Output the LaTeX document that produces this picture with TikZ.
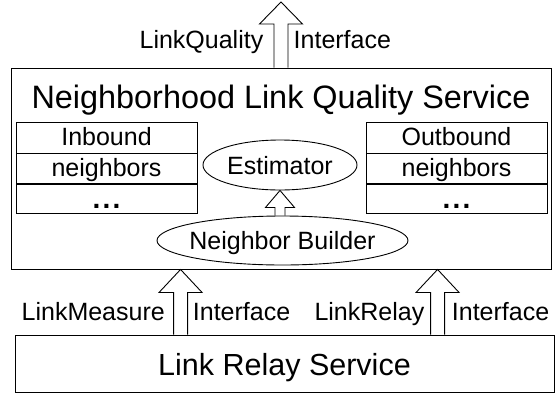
\documentclass[tikz,border=0pt]{standalone}
\usepackage{fontspec}
\setmainfont{Liberation Sans}
\usetikzlibrary{shapes.geometric,calc}

\tikzset{
  line/.style={draw=black, line width=0.9pt},
  frame/.style={line, rectangle, inner sep=0pt},
  cell/.style={frame, minimum width=181pt, font=\fontsize{25}{30}\selectfont,
               text height=15pt, text depth=0pt},
  oval/.style={line, ellipse, inner sep=0pt},
  ovaltext/.style={font=\fontsize{25}{30}\selectfont, text height=18pt,
                   text depth=0pt, inner sep=0pt},
  lbl/.style={font=\fontsize{25}{30}\selectfont, inner sep=0pt},
  hollow/.style={line, line join=miter},
}

% open block arrow pointing up: base point, tip point,
% shaft half width, head half width, head length (pt)
\newcommand\hollowarrow[5]{%
  \path[hollow] let \p1=#1, \p2=#2 in
    (\x2-#3pt,\y1) -- (\x2-#3pt,\y2-#5pt) -- (\x2-#4pt,\y2-#5pt) -- (\x2,\y2)
    -- (\x2+#4pt,\y2-#5pt) -- (\x2+#3pt,\y2-#5pt) -- (\x2+#3pt,\y1);
}
% row of bold dots for the last table row
\newcommand\moredots{{\fontsize{28}{30}\selectfont\bfseries .\hspace{2.2pt}.\hspace{2.2pt}.}}

\begin{document}
\begin{tikzpicture}[x=1pt,y=-1pt]
\useasboundingbox (0,0) rectangle (559,394);

% service frame and its title
\node[frame, minimum width=540pt, minimum height=201pt] (nlqs) at (281,168.5) {};
\node[lbl, font=\fontsize{32.4}{38}\selectfont, anchor=base] (title) at (281,108.5)
  {Neighborhood Link Quality Service};

% neighbor tables
\node[cell, minimum height=31pt] (in1) at (106.5,137.5) {Inbound};
\node[cell, minimum height=30pt, anchor=north] (in2) at (in1.south) {neighbors};
\node[cell, minimum height=29pt, anchor=north, text height=19pt] (in3) at (in2.south) {\moredots};

\node[cell, minimum height=31pt] (out1) at (456.5,137.5) {Outbound};
\node[cell, minimum height=30pt, anchor=north] (out2) at (out1.south) {neighbors};
\node[cell, minimum height=29pt, anchor=north, text height=19pt] (out3) at (out2.south) {\moredots};

% estimator and builder
\node[oval, minimum width=154pt, minimum height=50pt,
      label={[ovaltext]center:Estimator}] (est) at (280,165) {};
\node[oval, minimum width=251pt, minimum height=49pt,
      label={[ovaltext]center:Neighbor Builder}] (nb) at (282.5,240.5) {};
\hollowarrow{(nb.north)}{(est.south)}{5}{14.5}{17}

% lower service
\node[frame, minimum width=539pt, minimum height=57pt,
      font=\fontsize{30.5}{36}\selectfont, text height=23pt, text depth=0pt]
  (lrs) at (284.5,363.5) {Link Relay Service};

% interfaces
\coordinate (qtip) at (281,2);
\hollowarrow{(nlqs.north)}{(qtip)}{7}{21.5}{22}
\node[lbl, anchor=base east] (lq) at (263.5,48) {LinkQuality};
\node[lbl, anchor=base west] (lqi) at (293.5,48) {Interface};

\coordinate (mtip) at ($(nlqs.south west)+(170,0)$);
\hollowarrow{(lrs.north)}{(mtip)}{7}{21.5}{23}
\node[lbl, anchor=base east] (lm) at (165,320.5) {LinkMeasure};
\node[lbl, anchor=base west] (lmi) at (192.7,320.5) {Interface};

\coordinate (rtip) at ($(nlqs.south west)+(427,0)$);
\hollowarrow{(lrs.north)}{(rtip)}{7}{21.5}{23}
\node[lbl, anchor=base east] (lr) at (424.5,320.5) {LinkRelay};
\node[lbl, anchor=base west] (lri) at (451.7,320.5) {Interface};
\end{tikzpicture}
\end{document}
